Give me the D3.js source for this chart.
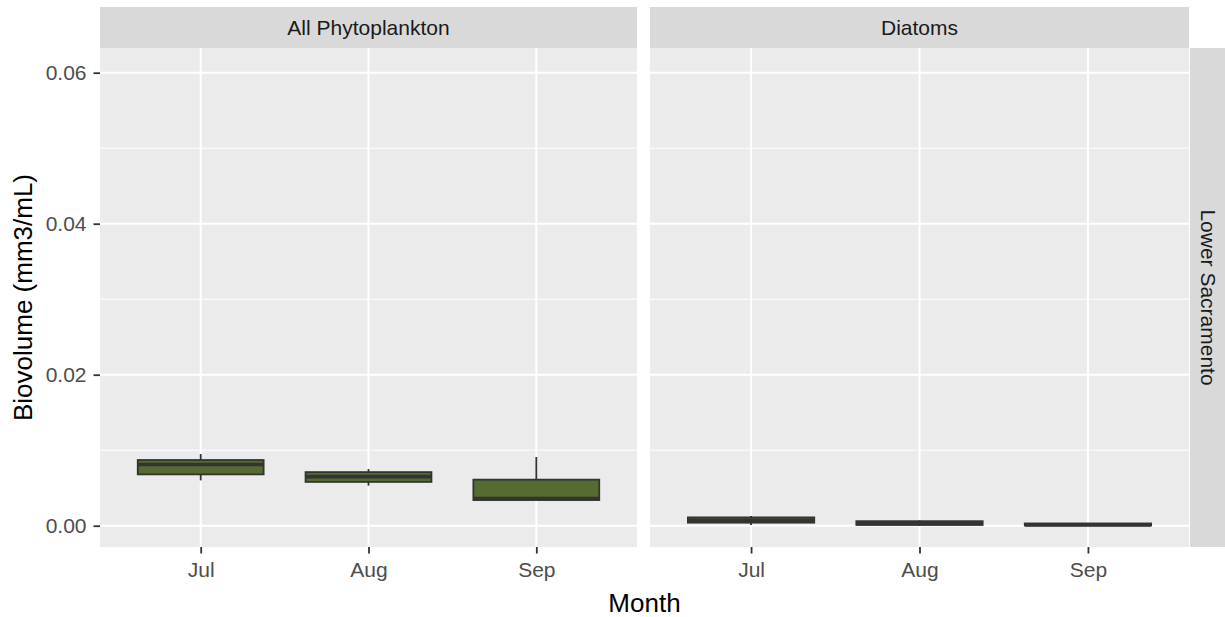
<!DOCTYPE html>
<html>
<head>
<meta charset="utf-8">
<script src="https://cdn.jsdelivr.net/npm/d3@7"></script>
<style>
  html, body { margin: 0; padding: 0; background: #ffffff; }
  svg { display: block; font-family: "Liberation Sans", Arial, sans-serif; }
</style>
</head>
<body>
<svg id="chart" width="1225" height="617"></svg>
<script>
// Facet labels and x categories
const facets = ["All Phytoplankton", "Diatoms"];
const rowLabel = "Lower Sacramento";
const months = ["Jul", "Aug", "Sep"];
const yTicks = [0, 0.02, 0.04, 0.06];
const yMinor = [0.01, 0.03, 0.05];

// Box summaries per month (mm3/mL): whisker low, Q1, median, Q3, whisker high
const allLow  = [0.0060, 0.0053, 0.0034];
const allQ1   = [0.0068, 0.0058, 0.0034];
const allMed  = [0.0081, 0.0065, 0.0036];
const allQ3   = [0.0087, 0.0071, 0.0061];
const allHigh = [0.0095, 0.0075, 0.0091];

const diaLow  = [0.0001, 0.0000, 0.0000];
const diaQ1   = [0.0004, 0.0001, 0.00005];
const diaMed  = [0.0007, 0.0003, 0.0001];
const diaQ3   = [0.0011, 0.0006, 0.0003];
const diaHigh = [0.0013, 0.0007, 0.0003];

const seriesByFacet = [
  { low: allLow, q1: allQ1, med: allMed, q3: allQ3, high: allHigh },
  { low: diaLow, q1: diaQ1, med: diaMed, q3: diaQ3, high: diaHigh }
];

const svg = d3.select("#chart");

const panelTop = 48, panelBottom = 547;
const stripTop = 7;
const panels = [
  { x0: 100, x1: 637 },
  { x0: 650, x1: 1189 }
];
const stripRight = { x0: 1190, x1: 1225 };

const y = d3.scaleLinear().domain([-0.00282, 0.06327]).range([panelBottom, panelTop]);

const textGrey = "#4D4D4D";
const stripText = "#1A1A1A";
const fill = "#556B2F";
const line = "#333333";
const tickFont = 21;
const titleFont = 26;

panels.forEach((p, i) => {
  const g = svg.append("g");
  const x = d3.scalePoint().domain(months).range([p.x0, p.x1]).padding(0.6);
  const step = x.step();
  const bw = step * 0.75;

  // panel background
  g.append("rect").attr("x", p.x0).attr("y", panelTop)
    .attr("width", p.x1 - p.x0).attr("height", panelBottom - panelTop)
    .attr("fill", "#EBEBEB");

  // minor gridlines
  g.selectAll(".minor").data(yMinor).join("line")
    .attr("x1", p.x0).attr("x2", p.x1)
    .attr("y1", d => y(d)).attr("y2", d => y(d))
    .attr("stroke", "#ffffff").attr("stroke-width", 1);

  // major gridlines
  g.selectAll(".majorY").data(yTicks).join("line")
    .attr("x1", p.x0).attr("x2", p.x1)
    .attr("y1", d => y(d)).attr("y2", d => y(d))
    .attr("stroke", "#ffffff").attr("stroke-width", 2);
  g.selectAll(".majorX").data(months).join("line")
    .attr("x1", d => x(d)).attr("x2", d => x(d))
    .attr("y1", panelTop).attr("y2", panelBottom)
    .attr("stroke", "#ffffff").attr("stroke-width", 2);

  // strip
  g.append("rect").attr("x", p.x0).attr("y", stripTop)
    .attr("width", p.x1 - p.x0).attr("height", panelTop - stripTop)
    .attr("fill", "#D9D9D9");
  g.append("text").attr("x", (p.x0 + p.x1) / 2).attr("y", (stripTop + panelTop) / 2)
    .attr("text-anchor", "middle").attr("dominant-baseline", "central")
    .attr("font-size", tickFont).attr("fill", stripText).text(facets[i]);

  // boxplots
  const s = seriesByFacet[i];
  const boxes = months.map((m, k) => ({
    m, low: s.low[k], q1: s.q1[k], med: s.med[k], q3: s.q3[k], high: s.high[k]
  }));
  const bg = g.selectAll(".box").data(boxes).join("g");
  bg.append("line")
    .attr("x1", d => x(d.m)).attr("x2", d => x(d.m))
    .attr("y1", d => y(d.high)).attr("y2", d => y(d.q3))
    .attr("stroke", line).attr("stroke-width", 1.8);
  bg.append("line")
    .attr("x1", d => x(d.m)).attr("x2", d => x(d.m))
    .attr("y1", d => y(d.q1)).attr("y2", d => y(d.low))
    .attr("stroke", line).attr("stroke-width", 1.8);
  bg.append("rect")
    .attr("x", d => x(d.m) - bw / 2).attr("width", bw)
    .attr("y", d => y(d.q3)).attr("height", d => Math.max(0, y(d.q1) - y(d.q3)))
    .attr("fill", fill).attr("stroke", line).attr("stroke-width", 1.8);
  bg.append("line")
    .attr("x1", d => x(d.m) - bw / 2).attr("x2", d => x(d.m) + bw / 2)
    .attr("y1", d => y(d.med)).attr("y2", d => y(d.med))
    .attr("stroke", line).attr("stroke-width", 3.6);

  // x axis
  const xAxis = d3.axisBottom(x).tickSize(6.5).tickPadding(9);
  const ax = g.append("g").attr("transform", `translate(0,${panelBottom})`).call(xAxis);
  ax.select(".domain").remove();
  ax.selectAll(".tick line").attr("stroke", line).attr("stroke-width", 1.8);
  ax.selectAll(".tick text").attr("fill", textGrey).attr("font-size", tickFont)
    .attr("font-family", "Liberation Sans, Arial, sans-serif");
});

// y axis on the left panel
const yAxis = d3.axisLeft(y).tickValues(yTicks).tickFormat(d3.format(".2f")).tickSize(6.5).tickPadding(7);
const ay = svg.append("g").attr("transform", `translate(${panels[0].x0},0)`).call(yAxis);
ay.select(".domain").remove();
ay.selectAll(".tick line").attr("stroke", line).attr("stroke-width", 1.8);
ay.selectAll(".tick text").attr("fill", textGrey).attr("font-size", tickFont)
  .attr("font-family", "Liberation Sans, Arial, sans-serif");

// right row strip
svg.append("rect").attr("x", stripRight.x0).attr("y", panelTop)
  .attr("width", stripRight.x1 - stripRight.x0).attr("height", panelBottom - panelTop)
  .attr("fill", "#D9D9D9");
svg.append("text")
  .attr("transform", `translate(${(stripRight.x0 + stripRight.x1) / 2 + 1},${(panelTop + panelBottom) / 2}) rotate(90)`)
  .attr("text-anchor", "middle").attr("dominant-baseline", "central")
  .attr("font-size", tickFont).attr("fill", stripText).text(rowLabel);

// axis titles
svg.append("text")
  .attr("x", (panels[0].x0 + panels[1].x1) / 2).attr("y", 603)
  .attr("text-anchor", "middle").attr("dominant-baseline", "central")
  .attr("font-size", titleFont).attr("fill", "#000000")
  .text("Month");
svg.append("text")
  .attr("transform", `translate(23,${(panelTop + panelBottom) / 2}) rotate(-90)`)
  .attr("text-anchor", "middle").attr("dominant-baseline", "central")
  .attr("font-size", titleFont).attr("fill", "#000000")
  .text("Biovolume (mm3/mL)");
</script>
</body>
</html>
